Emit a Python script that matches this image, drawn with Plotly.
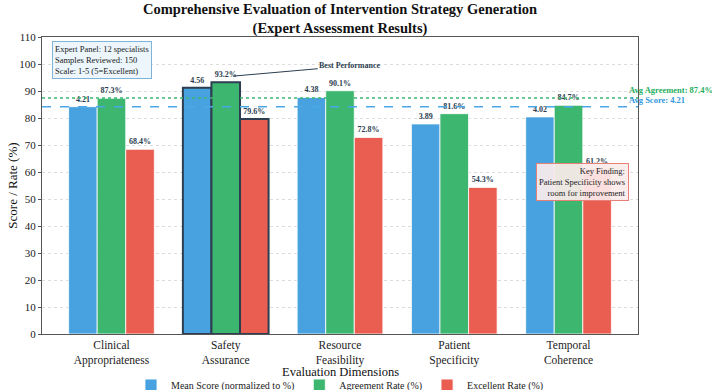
import plotly.graph_objects as go

categories = ["Clinical<br>Appropriateness", "Safety<br>Assurance", "Resource<br>Feasibility",
              "Patient<br>Specificity", "Temporal<br>Coherence"]
mean_scores = [4.21, 4.56, 4.38, 3.89, 4.02]
agreement_rates = [87.3, 93.2, 90.1, 81.6, 84.7]
excellent_rates = [68.4, 79.6, 72.8, 54.3, 61.2]
avg_score = 4.21
avg_agreement = 87.4

mean_pct = [s / 5 * 100 for s in mean_scores]
x_idx = list(range(len(categories)))

FONT = "Liberation Serif, Times New Roman, serif"
BLUE = "#48a2df"
GREEN = "#3db670"
RED = "#e95e50"
DARK = "#2c3e50"

best = 1
line_colors = [DARK if i == best else "white" for i in x_idx]
line_widths = [2 if i == best else 0.8 for i in x_idx]

fig = go.Figure()
series = [
    ("Mean Score (normalized to %)", mean_pct, BLUE, [f"{s:.2f}" for s in mean_scores]),
    ("Agreement Rate (%)", agreement_rates, GREEN, [f"{v:.1f}%" for v in agreement_rates]),
    ("Excellent Rate (%)", excellent_rates, RED, [f"{v:.1f}%" for v in excellent_rates]),
]
for name, vals, col, txt in series:
    fig.add_trace(go.Bar(
        x=x_idx, y=vals, name=name, text=txt, textposition="outside",
        textfont=dict(family=FONT, size=8, color=DARK, weight="bold"),
        marker=dict(color=col, line=dict(color=line_colors, width=line_widths)),
        constraintext="none", cliponaxis=False,
    ))

# average reference lines
fig.add_shape(type="line", xref="paper", x0=0, x1=1, yref="y", y0=avg_agreement, y1=avg_agreement,
              line=dict(color=GREEN, width=1.5, dash="dot"))
fig.add_shape(type="line", xref="paper", x0=0, x1=1, yref="y", y0=avg_score / 5 * 100,
              y1=avg_score / 5 * 100, line=dict(color="#4aa8e8", width=1.5, dash="dash"))

annotations = [
    dict(xref="paper", yref="y", x=0.9815, y=avg_agreement + 2.9, xanchor="left", yanchor="middle",
         text=f"<b>Avg Agreement: {avg_agreement}%</b>", showarrow=False,
         font=dict(family=FONT, size=8.5, color="#27ae60")),
    dict(xref="paper", yref="y", x=0.9815, y=avg_score / 5 * 100 + 2.6, xanchor="left", yanchor="middle",
         text=f"<b>Avg Score: {avg_score}</b>", showarrow=False,
         font=dict(family=FONT, size=8.5, color="#3498db")),
    dict(xref="x", yref="y", x=1.063, y=95.5, axref="x", ayref="y", ax=2.09, ay=99.3,
         text="<b>Best Performance</b>", showarrow=True, arrowhead=0, arrowwidth=1,
         arrowcolor=DARK, font=dict(family=FONT, size=8, color=DARK)),
    dict(xref="paper", yref="y", x=0.017, y=108.6, xanchor="left", yanchor="top", align="left",
         text="Expert Panel: 12 specialists<br>Samples Reviewed: 150<br>Scale: 1-5 (5=Excellent)",
         showarrow=False, font=dict(family=FONT, size=8.5, color="#222"),
         bgcolor="rgba(235,245,252,0.95)", bordercolor="#7fb3d8", borderwidth=1, borderpad=2),
    dict(xref="paper", yref="y", x=0.985, y=56.3, xanchor="right", yanchor="middle", align="right",
         text="Key Finding:<br>Patient Specificity shows<br>room for improvement",
         showarrow=False, font=dict(family=FONT, size=8.5, color="#222"),
         bgcolor="rgba(252,235,235,0.92)", bordercolor="#e8807a", borderwidth=1, borderpad=2),
    dict(xref="paper", yref="paper", x=0.5, y=-0.128, xanchor="center", yanchor="middle",
         text="Evaluation Dimensions", showarrow=False, font=dict(family=FONT, size=12.5, color="#111")),
    dict(xref="paper", yref="paper", x=-0.05, y=0.5, xanchor="center", yanchor="middle", textangle=-90,
         text="Score / Rate (%)", showarrow=False, font=dict(family=FONT, size=13, color="#111")),
]

fig.update_layout(
    width=712, height=390,
    margin=dict(l=42, r=74, t=37, b=56, autoexpand=False),
    paper_bgcolor="white", plot_bgcolor="white",
    barmode="group", bargap=0.25, bargroupgap=0,
    font=dict(family=FONT, color="#222"),
    title=dict(text="<b>Comprehensive Evaluation of Intervention Strategy Generation<br>(Expert Assessment Results)</b>",
               x=340 / 712, xanchor="center", y=0.963, yanchor="top",
               font=dict(family=FONT, size=14.5, color="#111")),
    xaxis=dict(range=[-0.608, 4.608], tickmode="array", tickvals=x_idx, ticktext=categories,
               showgrid=False, showline=True, linecolor="#555", linewidth=1, mirror=True,
               ticks="", tickfont=dict(family=FONT, size=11.5, color="#222"), zeroline=False),
    yaxis=dict(range=[0, 110], dtick=10, showgrid=True, gridcolor="#dddddd", griddash="dot", gridwidth=1,
               showline=True, linecolor="#555", linewidth=1, mirror=True, ticks="outside", ticklen=3,
               tickcolor="#555", tickfont=dict(family=FONT, size=11, color="#222"), zeroline=False),
    legend=dict(orientation="h", x=0.5, xanchor="center", y=-0.172, yanchor="middle",
                font=dict(family=FONT, size=10, color="#222"), bgcolor="rgba(0,0,0,0)",
                itemwidth=30, tracegroupgap=0),
    annotations=annotations,
    showlegend=True,
)

fig.write_html("out.html")
